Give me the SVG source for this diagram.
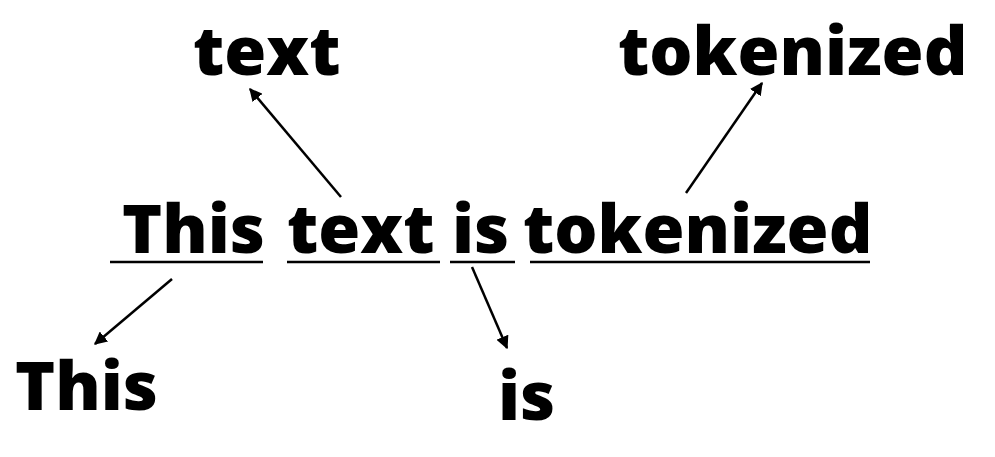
<svg xmlns="http://www.w3.org/2000/svg" width="995" height="457" viewBox="0 0 995 457">
<defs>
<style>
.w{font-family:"Open Sans","Noto Sans","Liberation Sans",sans-serif;font-weight:800;fill:#000}
.m{font-size:68px}
.l{font-size:68px}
.u{stroke:#000;stroke-width:2.5;fill:none}
.c{stroke:#000;stroke-width:2.5;fill:none;marker-end:url(#ah)}
</style>
<marker id="ah" viewBox="0 0 10 10" refX="9" refY="5" markerWidth="13" markerHeight="13" markerUnits="userSpaceOnUse" orient="auto">
<path d="M0,0 L10,5 L0,10 Z" fill="#000"/>
</marker>
</defs>
<rect width="995" height="457" fill="#fff"/>
<g id="sentence">
<text class="w m" x="122" y="253">This</text>
<text class="w m" x="287" y="253">text</text>
<text class="w m" x="452" y="253">is</text>
<text class="w m" x="523" y="253">tokenized</text>
<line class="u" x1="110" y1="262" x2="263" y2="262"/>
<line class="u" x1="287" y1="262" x2="440" y2="262"/>
<line class="u" x1="450" y1="262" x2="515" y2="262"/>
<line class="u" x1="530" y1="262" x2="870" y2="262"/>
</g>
<g id="token-this"><text class="w l" x="15" y="410">This</text></g>
<g id="token-text"><text class="w l" x="193" y="75">text</text></g>
<g id="token-is"><text class="w l" x="498" y="420">is</text></g>
<g id="token-tokenized"><text class="w l" x="618" y="75">tokenized</text></g>
<g id="connectors">
<line class="c" x1="172" y1="279" x2="95" y2="344"/>
<line class="c" x1="341" y1="197" x2="250" y2="89"/>
<line class="c" x1="472" y1="267" x2="507" y2="348"/>
<line class="c" x1="686" y1="193" x2="762" y2="83"/>
</g>
</svg>
